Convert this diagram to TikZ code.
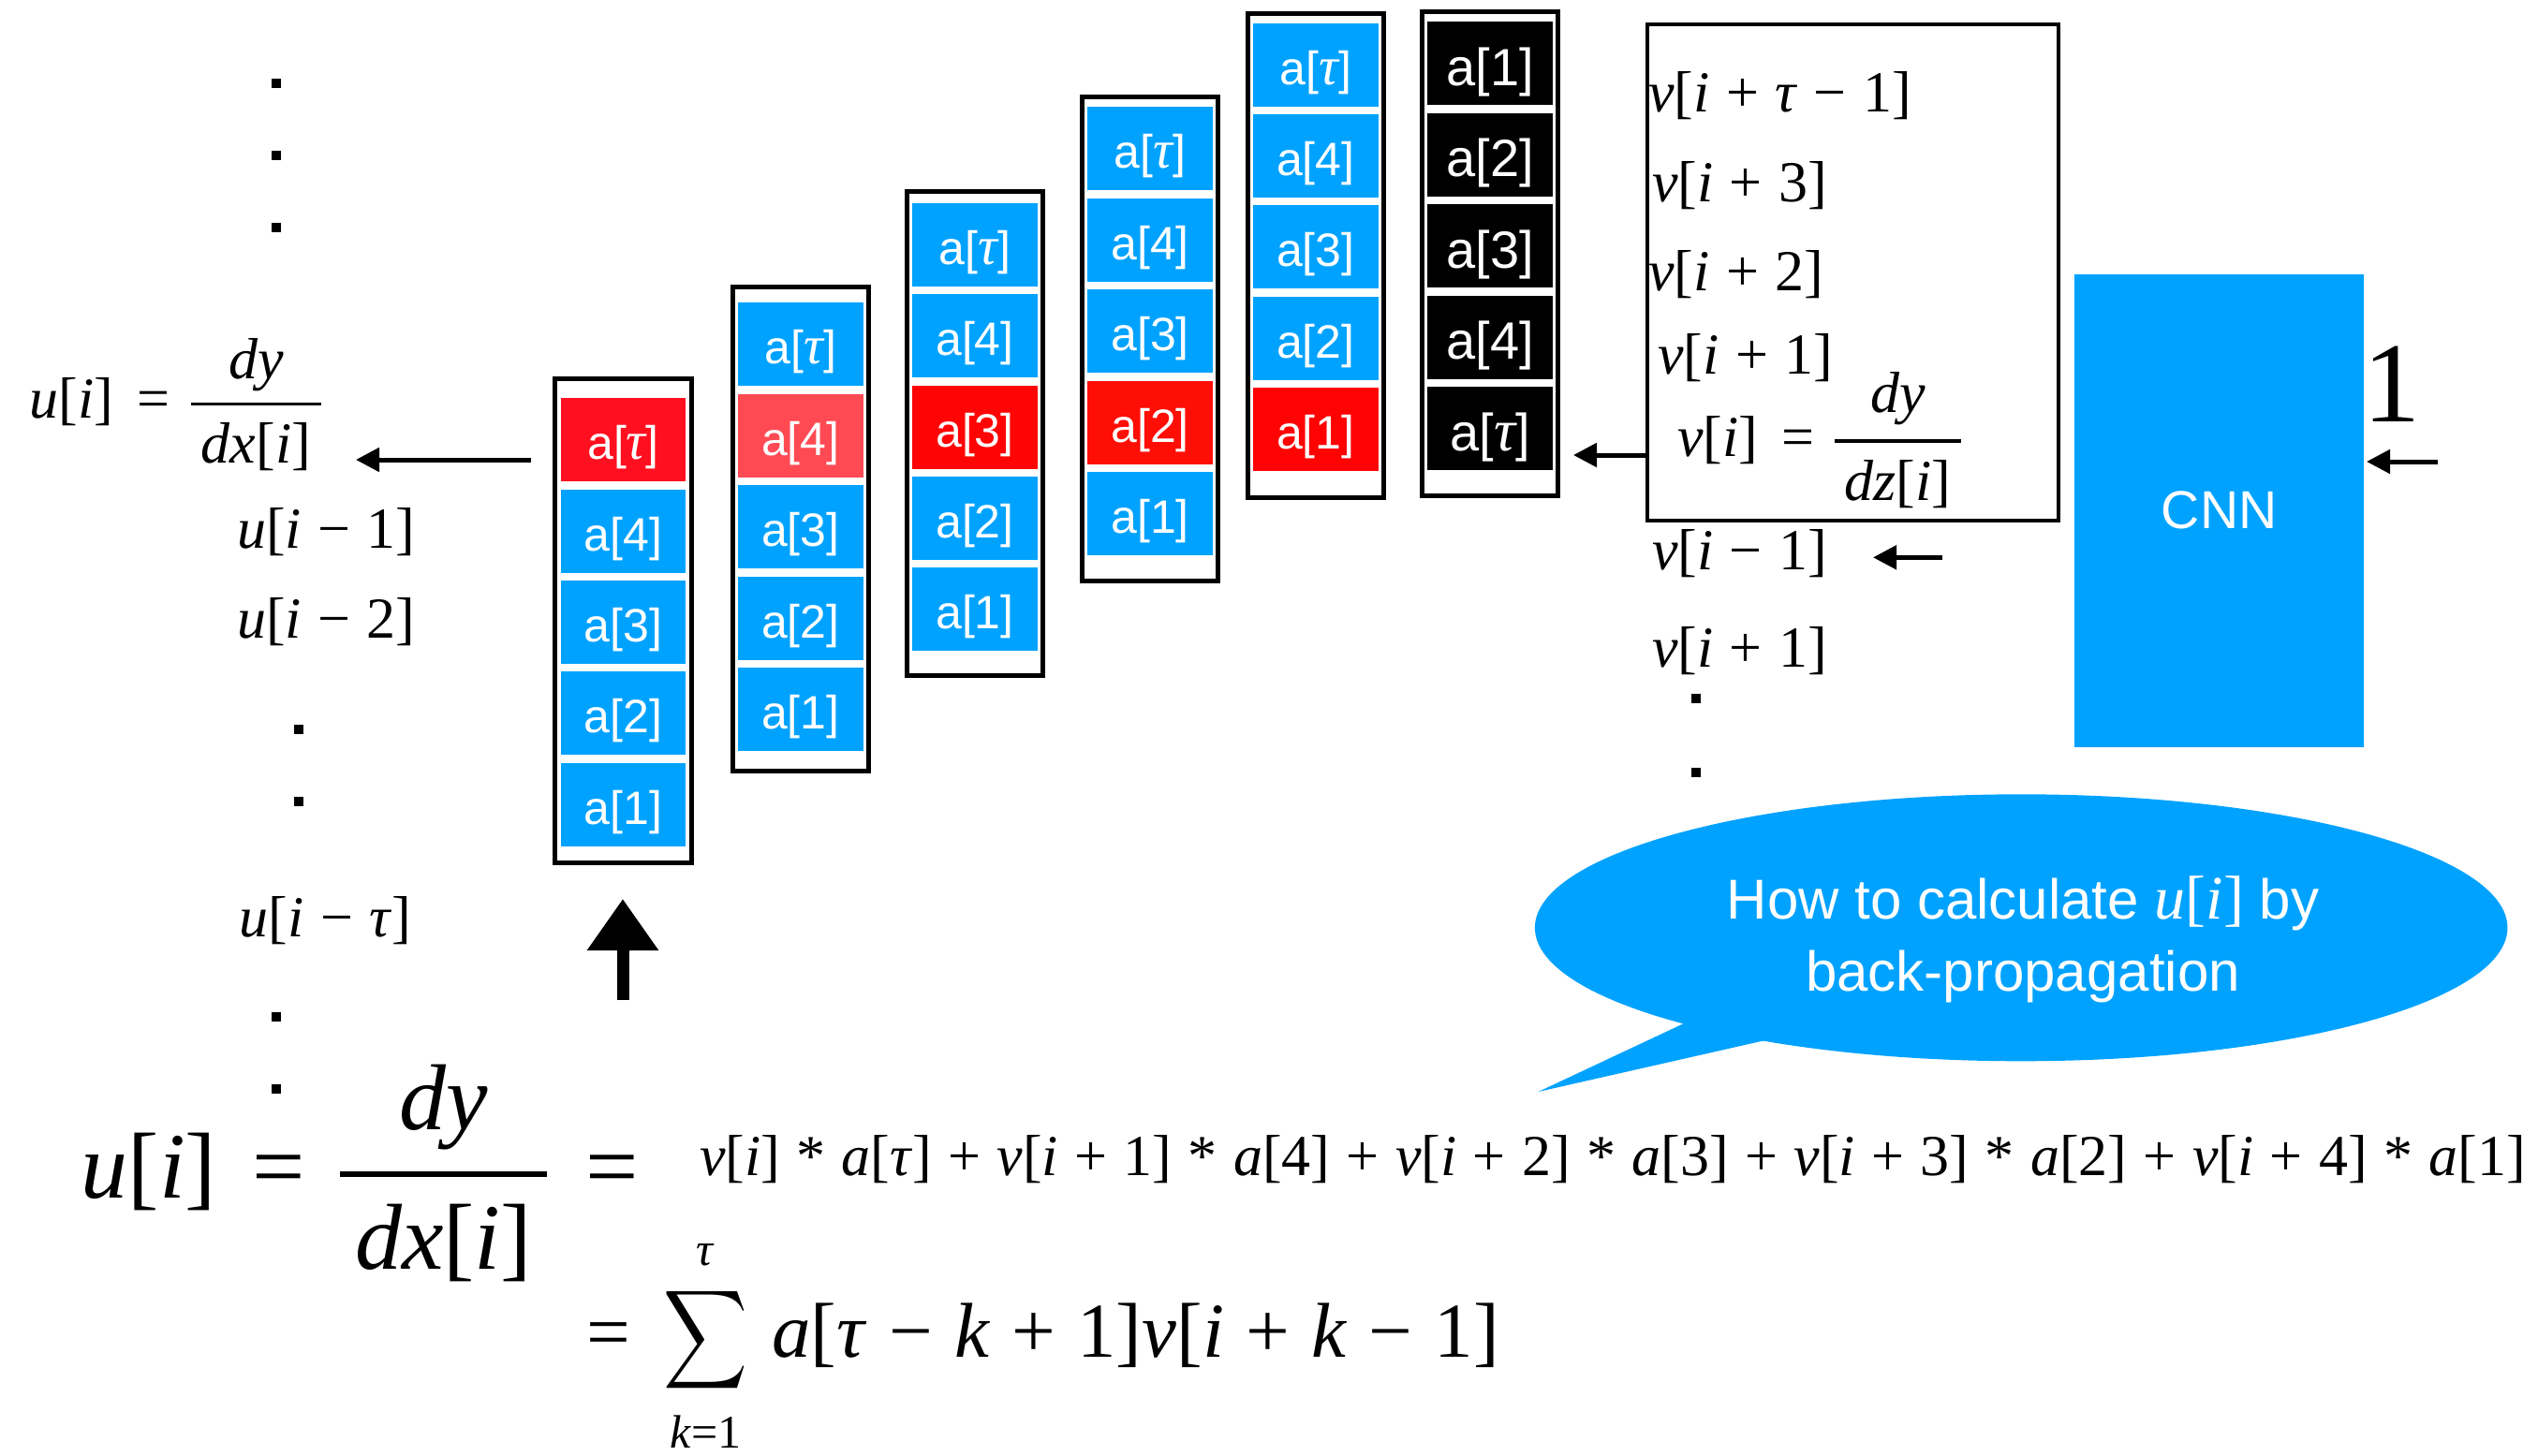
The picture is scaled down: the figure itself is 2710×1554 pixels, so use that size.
\documentclass[tikz,border=0pt]{standalone}
\usepackage{fontspec}
\setmainfont{Liberation Serif}
\setsansfont{Liberation Sans}
\usepackage{graphicx}
\usetikzlibrary{arrows.meta,shapes.geometric}
\definecolor{cblue}{RGB}{0,162,255}
\definecolor{redA}{RGB}{255,16,32}
\definecolor{redB}{RGB}{255,74,84}
\definecolor{redC}{RGB}{255,4,4}
\definecolor{redD}{RGB}{255,14,6}
\definecolor{redE}{RGB}{255,2,2}
\newcommand{\mv}[1]{\textit{#1}}
\newcommand{\bo}[1]{\hspace{0.28em}#1\hspace{0.28em}}
\newcommand{\tauc}{{\rmfamily\itshape\fontsize{29}{30}\selectfont τ}}
\newcommand{\taucb}{{\rmfamily\itshape\fontsize{32}{33}\selectfont τ}}
\begin{document}
\begin{tikzpicture}[x=0.5pt,y=-0.5pt,
  cell/.style={anchor=north west, minimum width=66.75pt, minimum height=44.5pt, inner sep=0pt,
    text=white, font=\sffamily\fontsize{25}{30}\selectfont, text height=21pt, text depth=0pt},
  bcell/.style={cell, fill=black, font=\sffamily\fontsize{28}{33}\selectfont, text height=23.5pt},
  colbox/.style={draw=black, line width=2.5pt, minimum width=72.65pt, minimum height=258.5pt, inner sep=0pt},
  mtxt/.style={inner sep=0pt, anchor=base west, font=\fontsize{31}{37}\selectfont},
  mtxtc/.style={mtxt, anchor=base},
  btxt/.style={inner sep=0pt, anchor=base, font=\fontsize{50}{60}\selectfont},
  stxt/.style={inner sep=0pt, anchor=base west, font=\fontsize{41.5}{48}\selectfont},
  lim/.style={inner sep=0pt, anchor=base, font=\fontsize{25}{30}\selectfont},
  fbar/.style={fill=black, inner sep=0pt, minimum width=#1, minimum height=1.8pt},
  arr/.style={line width=2.5pt, -{Triangle[length=12.5pt,width=12.5pt]}},
  uparr/.style={line width=6.5pt, -{Triangle[length=27.5pt,width=36.5pt]}},
  dotsq/.style={fill=black, minimum size=5pt, inner sep=0pt},
]
\fill[white] (0,0) rectangle (2710,1554);
\useasboundingbox (0,0) rectangle (2710,1554);

% column boxes
\node[colbox] (b1) at (665.5,662.85) {};
\node[colbox] (b2) at (854.75,565) {};
\node[colbox] (b3) at (1041,462.9) {};
\node[colbox] (b4) at (1228.05,361.7) {};
\node[colbox] (b5) at (1404.8,273.25) {};
\node[colbox] (b6) at (1591.1,271.15) {};

% cells
\foreach \c/\x/\y/\r/\rc in {1/598.3/424.7/1/redA, 2/787.6/322.9/2/redB, 3/973.8/216.3/3/redC, 4/1160.9/113.9/4/redD, 5/1337.6/24.2/5/redE}{
  \foreach \k/\lab in {1/{a[\tauc]},2/{a[4]},3/{a[3]},4/{a[2]},5/{a[1]}}{
    \ifnum\k=\r\relax\edef\fc{\rc}\else\def\fc{cblue}\fi
    \node[cell, fill=\fc] (c\c r\k) at (\x,{\y+(\k-1)*97.4}) {\lab};
  }
}
\foreach \k/\lab in {1/{a[1]},2/{a[2]},3/{a[3]},4/{a[4]},5/{a[\taucb]}}{
  \node[bcell] (c6r\k) at (1524,{23+(\k-1)*97.4}) {\lab};
}

% v box
\node[draw=black, line width=2pt, minimum width=219.45pt, minimum height=264.95pt, inner sep=0pt] (vbox) at (1978.25,291.05) {};

% CNN
\node[fill=cblue, minimum width=154.5pt, minimum height=252.25pt, inner sep=0pt, text=white,
  font=\sffamily\fontsize{28.5}{33}\selectfont] (cnn) at (2369.7,545.25) {CNN};
\node[inner sep=0pt, anchor=base, font=\fontsize{61}{70}\selectfont] (one) at (2554,450.6) {1};

% left labels
\node[mtxt] (uL) at (31.6,446.5) {\mv{u}[\mv{i}]};
\node[mtxtc] (uEq) at (163.6,446.5) {=};
\node[mtxtc] (uNum) at (273.5,404.5) {\mv{dy}};
\node[fbar=69.75pt] (uBar) at (273.5,431.4) {};
\node[mtxtc] (uDen) at (273.5,494) {\mv{dx}[\mv{i}]};
\node[mtxt] (um1) at (252.6,585) {\mv{u}[\mv{i}\bo{−}1]};
\node[mtxt] (um2) at (252.6,681.5) {\mv{u}[\mv{i}\bo{−}2]};
\node[mtxt] (umt) at (255.5,1000) {\mv{u}[\mv{i}\bo{−}\mv{τ}]};

% dots
\node[dotsq] (d1) at (294.5,89) {};
\node[dotsq] (d2) at (294.5,166) {};
\node[dotsq] (d3) at (294.5,243.4) {};
\node[dotsq] (d4) at (318.6,778.7) {};
\node[dotsq] (d5) at (318.6,855.8) {};
\node[dotsq] (d6) at (294.5,1086) {};
\node[dotsq] (d7) at (294.5,1163) {};
\node[dotsq] (d8) at (1811,746) {};
\node[dotsq] (d9) at (1811,825) {};

% v labels
\node[mtxt] (v1) at (1760,119) {\mv{v}[\mv{i}\bo{+}\mv{τ}\bo{−}1]};
\node[mtxt] (v2) at (1763.6,215) {\mv{v}[\mv{i}\bo{+}3]};
\node[mtxt] (v3) at (1760,310.6) {\mv{v}[\mv{i}\bo{+}2]};
\node[mtxt] (v4) at (1770,399.6) {\mv{v}[\mv{i}\bo{+}1]};
\node[mtxt] (v5) at (1790.6,487) {\mv{v}[\mv{i}]};
\node[mtxtc] (v5eq) at (1919.5,487) {=};
\node[mtxtc] (v5num) at (2026.5,440) {\mv{dy}};
\node[fbar=67.5pt] (v5bar) at (2026.5,470.7) {};
\node[mtxtc] (v5den) at (2026.5,534) {\mv{dz}[\mv{i}]};
\node[mtxt] (v6) at (1763.6,608.6) {\mv{v}[\mv{i}\bo{−}1]};
\node[mtxt] (v7) at (1763.6,712.5) {\mv{v}[\mv{i}\bo{+}1]};

% arrows
\coordinate (a1s) at (566.7,491);
\coordinate (a1e) at (380,491);
\draw[arr] (a1s) -- (a1e);
\coordinate (a2e) at (1680,486);
\draw[arr] (vbox.west |- a2e) -- (a2e);
\coordinate (a3s) at (2603,493);
\draw[arr, shorten >=1.2pt] (a3s) -- (cnn.east |- a3s);
\coordinate (a4s) at (2074,595.3);
\coordinate (a4e) at (2000,595.3);
\draw[arr] (a4s) -- (a4e);
\coordinate (upb) at (665,1068);
\coordinate (upt) at (665,960);
\draw[uparr] (upb) -- (upt);

% speech bubble
\fill[cblue] (1798,1093) -- (1642.5,1166) -- (1885,1111) -- (1850,1050) -- cycle;
\node[ellipse, fill=cblue, minimum width=519.25pt, minimum height=142.5pt, inner sep=0pt] (bub) at (2158.15,990.8) {};
\node[inner sep=0pt, align=center, text=white, font=\sffamily\fontsize{30}{38.5}\selectfont] (bubtxt) at (2160,1003)
  {How to calculate {\rmfamily\fontsize{33}{38.5}\selectfont\mv{u}[\mv{i}]} by\\back-propagation};

% bottom formula
\node[btxt, anchor=base west] (bu) at (86.4,1279) {\mv{u}[\mv{i}]};
\node[btxt] (beq1) at (298,1279) {=};
\node[btxt] (bnum) at (473.5,1206) {\mv{dy}};
\node[fill=black, inner sep=0pt, minimum width=110.5pt, minimum height=3.2pt] (bbar) at (473.5,1254) {};
\node[btxt] (bden) at (473.5,1355.5) {\mv{dx}[\mv{i}]};
\node[btxt] (beq2) at (654,1279) {=};
\node[mtxt] (bexpr) at (746.6,1255) {\mv{v}[\mv{i}]\bo{*}\mv{a}[\mv{τ}]\bo{+}\mv{v}[\mv{i}\bo{+}1]\bo{*}\mv{a}[4]\bo{+}\mv{v}[\mv{i}\bo{+}2]\bo{*}\mv{a}[3]\bo{+}\mv{v}[\mv{i}\bo{+}3]\bo{*}\mv{a}[2]\bo{+}\mv{v}[\mv{i}\bo{+}4]\bo{*}\mv{a}[1]};
\node[stxt, anchor=base] (beq3) at (650,1450) {=};
\node[inner sep=0pt] (bsum) at (753.5,1431) {\resizebox*{45pt}{59pt}{$\displaystyle\sum$}};
\node[lim] (bsumt) at (753,1351) {\mv{τ}};
\node[lim] (bsumb) at (753.5,1546) {\mv{k}=1};
\node[stxt] (bsexpr) at (824,1449) {\mv{a}[\mv{τ}\bo{−}\mv{k}\bo{+}1]\mv{v}[\mv{i}\bo{+}\mv{k}\bo{−}1]};
\end{tikzpicture}
\end{document}
